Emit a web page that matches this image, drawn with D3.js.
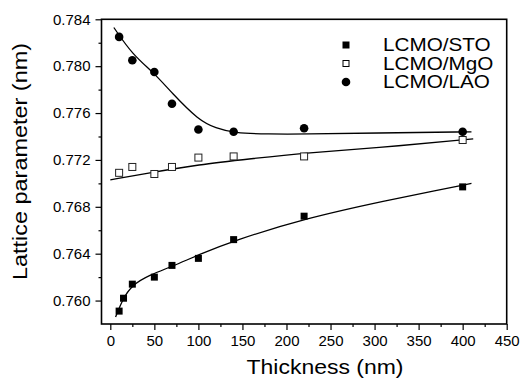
<!DOCTYPE html>
<html>
<head>
<meta charset="utf-8">
<script src="https://cdn.jsdelivr.net/npm/d3@7"></script>
<style>
    body { margin: 0; background: #fff; }
    text { font-family: "Liberation Sans", Arial, sans-serif; fill: #000; }
</style>
</head>
<body>
<script>
// measured points (thickness nm, lattice parameter nm)
const stoThickness = [10, 15, 25, 50, 70, 100, 140, 220, 400];
const stoLattice = [0.7591, 0.7602, 0.7614, 0.7620, 0.7630, 0.7636, 0.7652, 0.7672, 0.7697];

const mgoThickness = [10, 25, 50, 70, 100, 140, 220, 400];
const mgoLattice = [0.7709, 0.7714, 0.7708, 0.7714, 0.7722, 0.7723, 0.7723, 0.7737];

const laoThickness = [10, 25, 50, 70, 100, 140, 220, 400];
const laoLattice = [0.7825, 0.7805, 0.7795, 0.7768, 0.7746, 0.7744, 0.7747, 0.7744];

// fitted curves
const stoFitX = [6, 14, 24, 45, 70, 100, 140, 220, 317, 370, 410];
const stoFitY = [0.7586, 0.7601, 0.7613, 0.7622, 0.7629, 0.7639, 0.7651, 0.7670, 0.7686, 0.7694, 0.7700];
const mgoFitX = [0, 45, 100, 160, 220, 300, 412];
const mgoFitY = [0.7703, 0.7709, 0.7716, 0.7721, 0.7726, 0.7730, 0.7738];
const laoFitX = [4, 25, 50, 70, 100, 120, 140, 180, 220, 300, 410];
const laoFitY = [0.7833, 0.7810, 0.7794, 0.7777, 0.7754, 0.7747, 0.7743, 0.7742, 0.7742, 0.7743, 0.7744];

const xTicks = [0, 50, 100, 150, 200, 250, 300, 350, 400, 450];
const yTicks = [0.760, 0.764, 0.768, 0.772, 0.776, 0.780, 0.784];
const legendLabels = ["LCMO/STO", "LCMO/MgO", "LCMO/LAO"];

const W = 521, H = 378;
const margin = { left: 101.5, right: 14.3, top: 19.3, bottom: 54 };

const svg = d3.select("body").append("svg")
    .attr("width", W)
    .attr("height", H);

const x = d3.scaleLinear().domain([-10, 450]).range([margin.left, W - margin.right]);
const y = d3.scaleLinear().domain([0.758, 0.784]).range([H - margin.bottom, margin.top]);

// minor ticks first
svg.append("g")
    .attr("transform", `translate(0,${H - margin.bottom})`)
    .call(d3.axisBottom(x).tickValues(d3.range(25, 450, 50)).tickSize(3).tickFormat(""))
    .call(g => g.select(".domain").remove())
    .selectAll("line").attr("stroke-width", 1.2);
svg.append("g")
    .attr("transform", `translate(${margin.left},0)`)
    .call(d3.axisLeft(y).tickValues(d3.range(0.762, 0.784, 0.004)).tickSize(3).tickFormat(""))
    .call(g => g.select(".domain").remove())
    .selectAll("line").attr("stroke-width", 1.2);

const xAxis = svg.append("g")
    .attr("transform", `translate(0,${H - margin.bottom})`)
    .call(d3.axisBottom(x).tickValues(xTicks).tickSize(6).tickPadding(5).tickSizeOuter(0));
xAxis.select(".domain").remove();
xAxis.selectAll("line").attr("stroke-width", 1.2);
xAxis.selectAll("text").attr("font-size", 15).attr("font-family", null);

const yAxis = svg.append("g")
    .attr("transform", `translate(${margin.left},0)`)
    .call(d3.axisLeft(y).tickValues(yTicks).tickSize(6).tickPadding(5).tickFormat(d3.format(".3f")));
yAxis.select(".domain").remove();
yAxis.selectAll("line").attr("stroke-width", 1.2);
yAxis.selectAll("text").attr("font-size", 15).attr("font-family", null);

// frame
svg.append("rect")
    .attr("x", margin.left)
    .attr("y", margin.top)
    .attr("width", W - margin.right - margin.left)
    .attr("height", H - margin.bottom - margin.top)
    .attr("fill", "none")
    .attr("stroke", "#000")
    .attr("stroke-width", 1.6);

// fit lines
const line = d3.line()
    .x(d => x(d[0]))
    .y(d => y(d[1]))
    .curve(d3.curveBasis);

[[stoFitX, stoFitY], [mgoFitX, mgoFitY], [laoFitX, laoFitY]].forEach(f => {
    svg.append("path")
        .datum(d3.zip(f[0], f[1]))
        .attr("d", line)
        .attr("fill", "none")
        .attr("stroke", "#000")
        .attr("stroke-width", 1.3);
});

// markers
const sq = 7;
svg.append("g").selectAll("rect")
    .data(d3.zip(stoThickness, stoLattice))
    .join("rect")
    .attr("x", d => x(d[0]) - sq / 2)
    .attr("y", d => y(d[1]) - sq / 2)
    .attr("width", sq).attr("height", sq)
    .attr("fill", "#000");

svg.append("g").selectAll("rect")
    .data(d3.zip(mgoThickness, mgoLattice))
    .join("rect")
    .attr("x", d => x(d[0]) - sq / 2)
    .attr("y", d => y(d[1]) - sq / 2)
    .attr("width", sq).attr("height", sq)
    .attr("fill", "#fff")
    .attr("stroke", "#222")
    .attr("stroke-width", 1);

svg.append("g").selectAll("circle")
    .data(d3.zip(laoThickness, laoLattice))
    .join("circle")
    .attr("cx", d => x(d[0]))
    .attr("cy", d => y(d[1]))
    .attr("r", 4.3)
    .attr("fill", "#000");

// legend
const legend = svg.append("g").attr("transform", "translate(346,45)");
legend.append("rect").attr("x", -3.5).attr("y", -3.5).attr("width", 7).attr("height", 7).attr("fill", "#000");
legend.append("rect").attr("x", -3).attr("y", 15.5).attr("width", 6).attr("height", 6)
    .attr("fill", "#fff").attr("stroke", "#000").attr("stroke-width", 1);
legend.append("circle").attr("cx", 0).attr("cy", 37).attr("r", 4.3).attr("fill", "#000");
legend.selectAll("text.lbl")
    .data(legendLabels)
    .join("text")
    .attr("class", "lbl")
    .attr("transform", (d, i) => `translate(37,${6 + i * 18.6}) scale(1.15,1)`)
    .attr("font-size", 18)
    .text(d => d);

// axis titles
svg.append("text")
    .attr("x", 325)
    .attr("y", 373.5)
    .attr("text-anchor", "middle")
    .attr("font-size", 19.5)
    .attr("textLength", 157)
    .attr("lengthAdjust", "spacingAndGlyphs")
    .text("Thickness (nm)");

svg.append("text")
    .attr("transform", "translate(27,161.5) rotate(-90)")
    .attr("text-anchor", "middle")
    .attr("font-size", 21)
    .attr("textLength", 237)
    .attr("lengthAdjust", "spacingAndGlyphs")
    .text("Lattice parameter (nm)");
</script>
</body>
</html>
